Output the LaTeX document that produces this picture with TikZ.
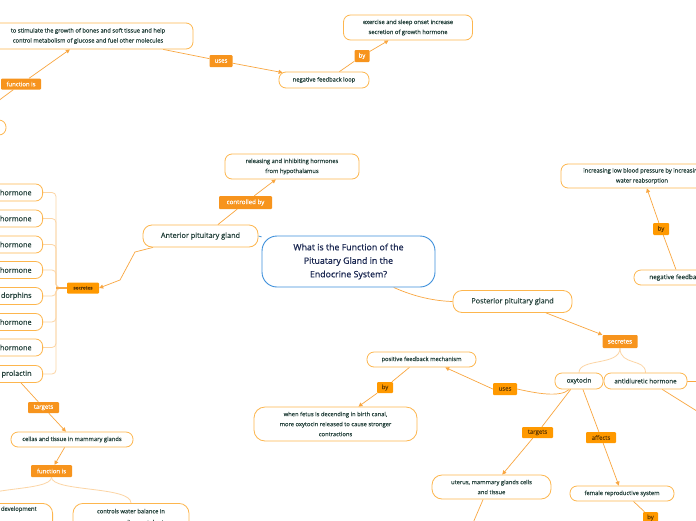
\documentclass[tikz,border=0pt]{standalone}
\usepackage{fontspec}
\setmainfont{Open Sans}[FakeBold=0.25]
\newfontfamily\semib{Open Sans}[FakeBold=0.7]
\usetikzlibrary{arrows.meta,backgrounds,calc}
\definecolor{obord}{HTML}{FDB64E}
\definecolor{oline}{HTML}{F9A640}
\definecolor{olight}{HTML}{FCD5A5}
\definecolor{lfill}{HTML}{F7941D}
\definecolor{lfillb}{HTML}{FF9900}
\definecolor{ltextb}{HTML}{6B3E00}
\definecolor{tcol}{HTML}{23403A}
\definecolor{cblue}{HTML}{3D8FDB}
\definecolor{ctext}{HTML}{1B2852}
\tikzset{
  topic/.style={draw=obord, line width=0.8pt, fill=white, rounded corners=7pt, text=tcol, align=center, inner sep=0pt},
  fsmall/.style={font=\fontsize{5.8}{10}\selectfont},
  fmid/.style={font=\fontsize{7.3}{9}\selectfont},
  lab/.style={fill=lfill, text=white, rounded corners=1pt, inner sep=0pt, font=\fontsize{6}{7}\selectfont},
  labd/.style={lab, fill=lfillb, text=ltextb},
  conn/.style={draw=oline, line width=0.7pt},
  arr/.style={conn, -{Triangle[width=4pt,length=4pt]}},
  tree/.style={draw=olight, line width=0.8pt},
}
\begin{document}
\begin{tikzpicture}[x=1pt,y=-1pt]
\useasboundingbox (0,0) rectangle (696,520);
\clip (0,0) rectangle (696,520);

% top-left cluster
\node[topic, fsmall, minimum width=210pt, minimum height=26pt] (n1) at (88,36) {to stimulate the growth of bones and soft tissue and help\\control metabolism of glucose and fuel other molecules};
\node[topic, minimum width=66pt, minimum height=15pt] (n0) at (-27,127.5) {};
\node[lab, minimum width=40pt, minimum height=11pt] (fn1) at (21,84) {function is};
\node[lab, minimum width=23pt, minimum height=12pt] (uses1) at (221,61) {uses};
\node[topic, fsmall, minimum width=90pt, minimum height=16pt] (n2) at (324,80) {negative feedback loop};
\node[lab, minimum width=15pt, minimum height=12pt] (by1) at (362,56) {by};
\node[topic, fsmall, minimum width=129pt, minimum height=25pt] (n3) at (408,27.5) {exercise and sleep onset increase\\secretion of growth hormone};

% anterior
\node[topic, fsmall, minimum width=134pt, minimum height=25pt] (n4) at (292,166.5) {releasing and inhibiting hormones\\from hypothalamus};
\node[lab, font=\fontsize{6.2}{7}\selectfont, minimum width=53pt, minimum height=13pt] (cb) at (245.5,202.5) {controlled by};
\node[topic, fmid, minimum width=115pt, minimum height=22pt, rounded corners=9pt] (n5) at (200.5,236) {Anterior pituitary gland};

% central
\node[draw=cblue, line width=0.9pt, fill=white, rounded corners=15pt, text=ctext, align=center, inner sep=0pt, minimum width=173pt, minimum height=51pt, font=\semib\fontsize{8.8}{13.5}\selectfont] (c) at (348.5,261.5) {What is the Function of the\\Pituatary Gland in the\\Endocrine System?};

% posterior
\node[topic, fmid, minimum width=119pt, minimum height=22pt, rounded corners=9pt] (n6) at (512.5,301.5) {Posterior pituitary gland};
\node[lab, font=\fontsize{6.3}{7}\selectfont, minimum width=35pt, minimum height=13pt] (sec2) at (620,341.5) {secretes};
\node[topic, font=\fontsize{6.3}{8}\selectfont, minimum width=48pt, minimum height=16pt] (oxy) at (579,381) {oxytocin};
\node[topic, font=\fontsize{6.3}{8}\selectfont, minimum width=83pt, minimum height=16pt] (adh) at (645.5,381) {antidiuretic hormone};
\node[topic, font=\fontsize{6.3}{8}\selectfont, minimum width=84pt, minimum height=15pt] (n7) at (676,277.5) {negative feedback};
\node[topic, fsmall, minimum width=162pt, minimum height=24pt] (n8) at (642,176) {increasing low blood pressure by increasing\\water reabsorption};
\node[labd, minimum width=16pt, minimum height=12pt] (by2) at (661,229) {by};
\node[labd, minimum width=24pt, minimum height=12pt] (uses2) at (505,389) {uses};
\node[topic, fsmall, minimum width=109pt, minimum height=15pt] (pfm) at (421.5,359.5) {positive feedback mechanism};
\node[labd, minimum width=16pt, minimum height=11pt] (by3) at (385,387.5) {by};
\node[topic, fsmall, minimum width=163pt, minimum height=34pt, rounded corners=11pt] (fetus) at (335.5,424) {when fetus is decending in birth canal,\\more oxytocin released to cause stronger\\contractions};
\node[labd, minimum width=31pt, minimum height=11pt] (tg2) at (537.5,432.5) {targets};
\node[labd, minimum width=30pt, minimum height=11pt] (aff) at (601,437.5) {affects};
\node[topic, fsmall, minimum width=119pt, minimum height=24pt, rounded corners=10pt] (uterus) at (491.5,487) {uterus, mammary glands cells\\and tissue};
\node[topic, fsmall, minimum width=104pt, minimum height=15pt] (fem) at (622,493.5) {female reproductive system};
\node[labd, minimum width=15pt, minimum height=11pt] (by4) at (650.5,517.5) {by};
\coordinate (r1) at (700,381);
\coordinate (r2) at (700,413);
\coordinate (u2) at (473,523);

% left list
\tikzset{hnode/.style={topic, fmid, anchor=east, inner xsep=11pt, minimum height=17pt}}
\node[hnode] (h1) at (43,192.5) {hormone};
\node[hnode] (h2) at (43,218.5) {hormone};
\node[hnode] (h3) at (43,244.5) {hormone};
\node[hnode] (h4) at (43,270) {hormone};
\node[hnode] (h5) at (43,296) {dorphins};
\node[hnode] (h6) at (43,322) {hormone};
\node[hnode] (h7) at (43,347.5) {hormone};
\node[hnode] (h8) at (43,374) {prolactin};
\node[labd, font=\bfseries\fontsize{4.6}{6}\selectfont, minimum width=32pt, minimum height=11pt] (sec1) at (83,288) {secretes};
\node[lab, minimum width=31pt, minimum height=11pt] (tg1) at (43.5,407.5) {targets};
\node[topic, fsmall, minimum width=122pt, minimum height=15pt] (cellas) at (72,439.5) {cellas and tissue in mammary glands};
\node[lab, minimum width=41pt, minimum height=12pt] (fn2) at (51.5,471) {function is};
\node[topic, fsmall, anchor=north east, text width=124pt, align=right, inner xsep=16pt, inner ysep=3pt, text depth=25pt, rounded corners=10pt] (dev) at (53,503) {development};
\node[topic, fsmall, anchor=north, minimum width=116pt, inner ysep=5.5pt, text depth=14pt, rounded corners=10pt, font=\fontsize{5.8}{11}\selectfont] (ctrl) at (131,503) {controls water balance in\\non-mammalian vertebrates};

\begin{scope}[on background layer]
\fill[white] (0,0) rectangle (696,520);
\clip (0,0) rectangle (696,520);
\draw[arr] (n0.north) -- (fn1) -- ($(n1.south west)!0.414!(n1.south east)$);
\draw[arr] ($(n1.south west)!0.857!(n1.south east)$) -- (uses1) -- ($(n2.north west)+(4,1)$);
\draw[arr] ($(n2.north west)!0.67!(n2.north east)$) -- (by1) -- ($(n3.south west)!0.35!(n3.south east)$);
\draw[arr] ($(n5.north west)!0.65!(n5.north east)$) -- (cb) -- ($(n4.south west)!0.38!(n4.south east)$);
\draw[cblue, line width=0.8pt] (n5.east) -- (c);
\draw[conn] ($(c.south west)!0.76!(c.south east)$) .. controls (415,297) and (435,301) .. (n6.west);
\draw[arr] ($(n6.south west)!0.78!(n6.south east)$) -- (sec2.north west);
\draw[tree] (sec2.south) .. controls (620,366) and (579,358) .. (oxy.north);
\draw[tree] (sec2.south) .. controls (620,366) and (645.5,358) .. (adh.north);
\draw[conn] (adh.east) -- (r1);
\draw[conn] ($(adh.south west)!0.7!(adh.south east)$) -- (r2);
\draw[arr] (n7.north) -- (by2) -- ($(n8.south west)!0.53!(n8.south east)$);
\draw[conn] ($(oxy.south west)!0.3!(oxy.south east)$) .. controls (560,398) and (535,393) .. (uses2.east);
\draw[arr] (uses2.west) -- ($(pfm.south west)!0.716!(pfm.south east)$);
\draw[arr] ($(pfm.south west)!0.39!(pfm.south east)$) -- (by3) -- ($(fetus.north west)!0.64!(fetus.north east)$);
\draw[arr] ($(oxy.south west)!0.33!(oxy.south east)$) -- (tg2) -- ($(uterus.north west)!0.59!(uterus.north east)$);
\draw[arr] ($(oxy.south west)!0.58!(oxy.south east)$) -- (aff) -- ($(fem.north west)!0.47!(fem.north east)$);
\draw[conn] ($(fem.south west)!0.61!(fem.south east)$) -- (by4);
\draw[conn] ($(uterus.south west)!0.43!(uterus.south east)$) -- (u2);
\foreach \i in {1,...,8} \draw[tree, rounded corners=4pt] (sec1.west) -- (56,288) |- (h\i.east);
\draw[conn, line width=1.2pt] (sec1.west) -- (56,288);
\draw[arr] ($(n5.south west)!0.09!(n5.south east)$) -- (135,252) -- (120,280) -- (sec1.east);
\draw[arr] ($(h8.south east)+(-22,0)$) -- (tg1) -- ($(cellas.north west)!0.45!(cellas.north east)$);
\draw[arr] ($(cellas.south west)!0.44!(cellas.south east)$) -- ($(fn2.north)+(3,0)$);
\draw[tree] (fn2.south) .. controls (51.5,492) and (-25,486) .. (dev.north);
\draw[tree] (fn2.south) .. controls (51.5,492) and (131,486) .. (ctrl.north);
\end{scope}
\end{tikzpicture}
\end{document}
